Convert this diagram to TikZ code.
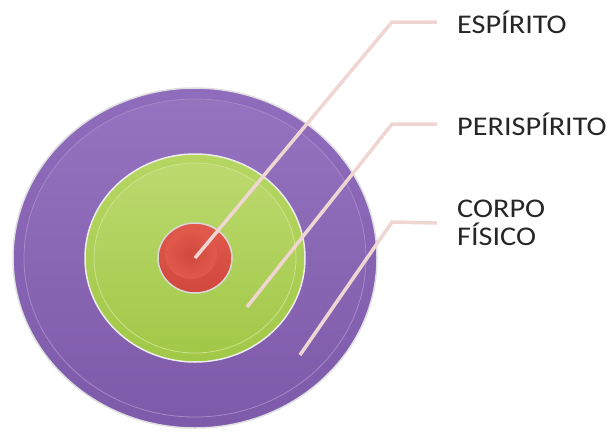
\documentclass[tikz,border=0pt]{standalone}
\usepackage{fontspec}
\setmainfont{Carlito}
\definecolor{roxo}{RGB}{144,108,188}
\definecolor{roxoesc}{RGB}{126,90,170}
\definecolor{verde}{RGB}{182,214,98}
\definecolor{verdeesc}{RGB}{162,200,72}
\definecolor{vermelho}{RGB}{226,90,76}
\definecolor{vermelhoesc}{RGB}{208,72,62}
\definecolor{linha}{RGB}{240,214,210}
\tikzset{
  aro/.style={draw=gray!25, line width=1.5pt},
  guia/.style={linha, line width=3.5pt, line join=miter},
  rotulo/.style={anchor=west, inner sep=0pt, align=left, text=black!85, xscale=1.12,
    font=\fontsize{27}{28}\selectfont}
}
\begin{document}
\begin{tikzpicture}[x=1pt, y=-1pt]
        \useasboundingbox (0,0) rectangle (610,437);
        \coordinate (c) at (195,258);

        % corpo fisico
        \shade[aro, top color=roxo, bottom color=roxoesc] (c) ellipse (182 and 170);
        \shade[top color=roxo!95!white, bottom color=roxoesc, draw=roxo!80!white, line width=0.8pt] (c) ellipse (171 and 159);

        % perispirito
        \shade[aro, draw=gray!15, top color=verde, bottom color=verdeesc] (c) ellipse (110 and 104);
        \shade[top color=verde!92!white, bottom color=verdeesc, draw=verde!70!white, line width=0.8pt] (c) ellipse (101 and 95);

        % espirito
        \shade[aro, draw=gray!30, top color=vermelho, bottom color=vermelhoesc] (c) ellipse (37 and 35);
        \shade[inner color=vermelhoesc, outer color=vermelho] (191,254) ellipse (26 and 25);

        % pontos e cotovelos
        \coordinate (p1) at (195,258);
        \coordinate (p2) at (247,307);
        \coordinate (p3) at (300,355);
        \coordinate (e1) at (392,22);
        \coordinate (e2) at (392,124);
        \coordinate (e3) at (392,222);

        \node[rotulo] (l1) at (457,22) {ESPÍRITO};
        \node[rotulo] (l2) at (457,124) {PERISPÍRITO};
        \node[rotulo] (l3) at (457,223) {CORPO\\FÍSICO};

        \draw[guia] (p1) -- (e1) -- ([xshift=-20pt]l1.west);
        \draw[guia] (p2) -- (e2) -- ([xshift=-20pt]l2.west);
        \draw[guia] (p3) -- (e3) -- ([xshift=-20pt]l3.west);

    \end{tikzpicture}
\end{document}
